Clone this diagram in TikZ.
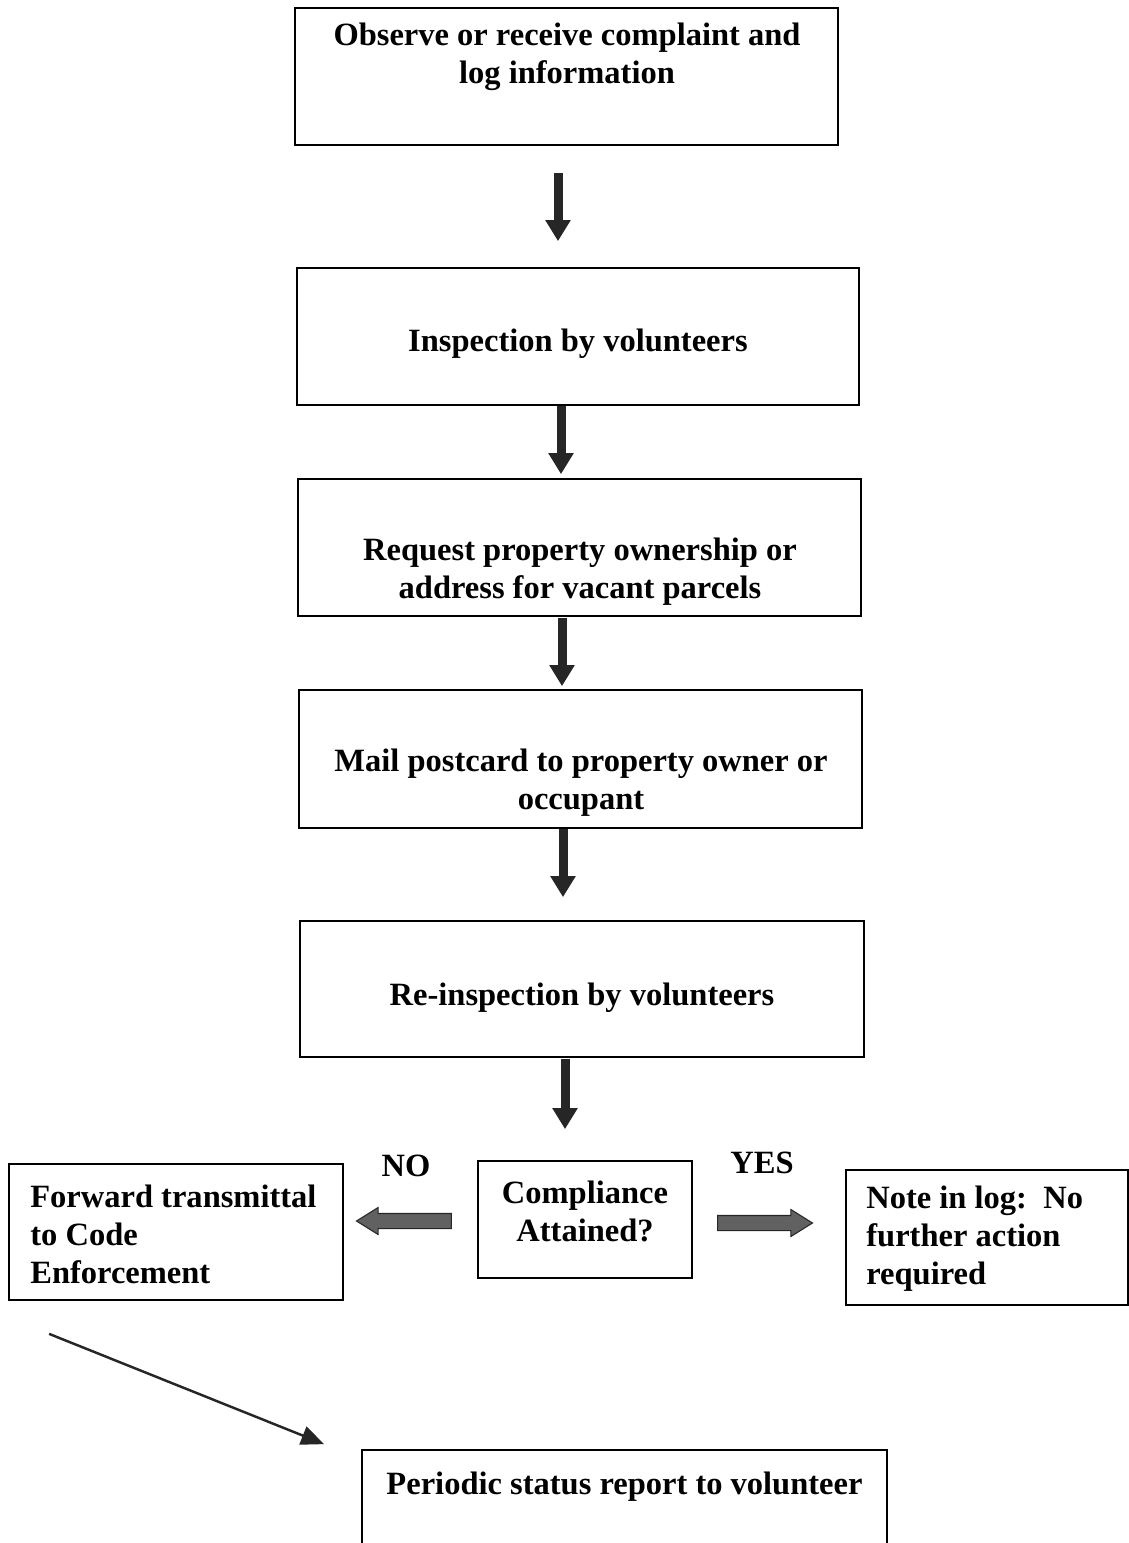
\documentclass[tikz,border=0pt]{standalone}
\usepackage{fontspec}
\setmainfont{Liberation Serif}
\usetikzlibrary{positioning,arrows.meta,shapes.arrows}

\begin{document}
\begin{tikzpicture}
                [x=0.02cm,y=-0.02cm,node distance=0.44cm,
                box/.style={draw,line width=1pt,inner sep=0},
                txt/.style={inner sep=0,font=\fontsize{18.5}{21.6}\selectfont\bfseries},
                flow/.style={line width=0.18cm,draw=black!85,-{Triangle[width=0.48cm,length=0.42cm]}},
                report/.style={line width=1.4pt,draw=black!85,-{Triangle[width=0.38cm,length=0.46cm]}},
                blockarrow/.style={single arrow,draw=black!85,fill=black!62,line width=0.6pt,
                    minimum height=1.9cm,inner sep=0.14cm,single arrow head extend=0.12cm,
                    single arrow tip angle=64}]
                \useasboundingbox (0,0) rectangle (1129,1543);
                % main column
                \node[box,minimum width=10.86cm,minimum height=2.74cm] (observe) at (566.5,76.5){};
                \node[txt,align=center] (observetext) at (567,57){Observe or receive complaint and\\log information};
                \node[box,minimum width=11.24cm,minimum height=2.74cm] (inspect) at (578,336.5){};
                \node[txt] (inspecttext) at (578,344){Inspection by volunteers};
                \node[box,minimum width=11.26cm,minimum height=2.74cm] (request) at (579.5,547.5){};
                \node[txt,align=center] (requesttext) at (580,572){Request property ownership or\\address for vacant parcels};
                \node[box,minimum width=11.26cm,minimum height=2.76cm] (mail) at (580.5,759){};
                \node[txt,align=center] (mailtext) at (581,783){Mail postcard to property owner or\\occupant};
                \node[box,minimum width=11.28cm,minimum height=2.72cm] (reinspect) at (582,989){};
                \node[txt] (reinspecttext) at (582,998){Re-inspection by volunteers};
                \node[box,minimum width=4.28cm,minimum height=2.34cm] (comply) at (585,1219.5){};
                \node[txt,align=center] (complytext) at (585,1211){Compliance\\Attained?};
                % outcomes
                \node[box,minimum width=6.68cm,minimum height=2.72cm] (fwd) at (176,1232){};
                \node[txt,align=left,anchor=west] (fwdtext) at (30,1234){Forward transmittal\\to Code\\Enforcement};
                \node[box,minimum width=5.64cm,minimum height=2.7cm] (note) at (987,1237.5){};
                \node[txt,align=left,anchor=west] (notetext) at (866,1239){Note in log:\ \ No\\further action\\required};
                \node[box,minimum width=10.5cm,minimum height=2.2cm] (periodic) at (624.5,1505){};
                \node[txt] (periodictext) [below=of periodic.north]{Periodic status report to volunteer};
                \node[txt] (notext) at (406,1166){NO};
                \node[txt] (yestext) at (762,1163){YES};
                \node[blockarrow,shape border rotate=180] (noarrow) at (410,1221){};
                \node[blockarrow] (yesarrow) at (759,1223){};
                % connectors
                \draw[flow,shorten <=0.54cm,shorten >=0.52cm] ([xshift=-0.17cm]observe.south) -- ([xshift=-0.17cm]observe.south |- inspect.north);
                \draw[flow,shorten >=0.08cm] ([xshift=-0.34cm]inspect.south) -- ([xshift=-0.34cm]inspect.south |- request.north);
                \draw[flow,shorten <=0.02cm,shorten >=0.06cm] ([xshift=-0.35cm]request.south) -- ([xshift=-0.35cm]request.south |- mail.north);
                \draw[flow,shorten >=0.46cm] ([xshift=-0.35cm]mail.south) -- ([xshift=-0.35cm]mail.south |- reinspect.north);
                \draw[flow,shorten <=0.02cm,shorten >=0.62cm] ([xshift=-0.34cm]reinspect.south) -- ([xshift=-0.34cm]reinspect.south |- comply.north);
                \draw[report] ([shift={(0.82cm,-0.66cm)}]fwd.south west) -- ([shift={(-0.74cm,0.1cm)}]periodic.north west);
            \end{tikzpicture}
\end{document}
